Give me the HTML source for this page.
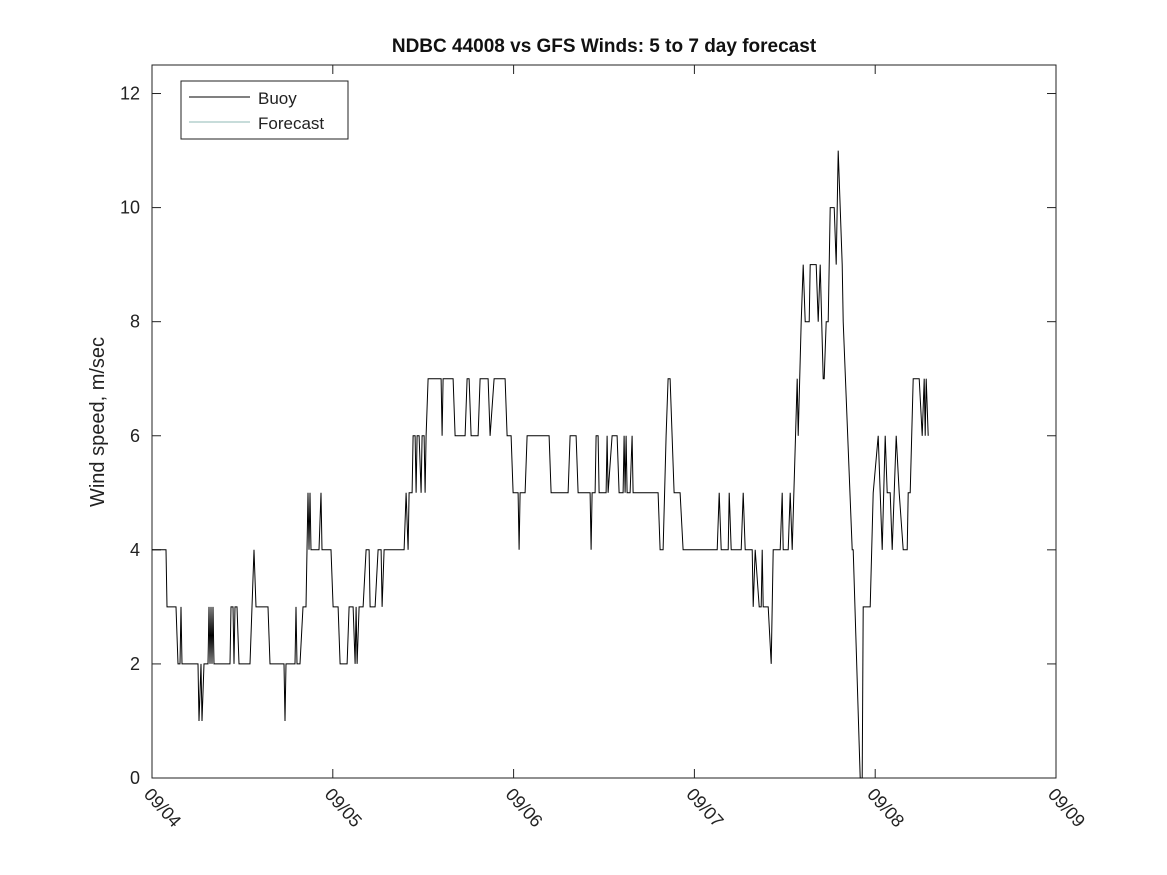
<!DOCTYPE html>
<html><head><meta charset="utf-8"><style>
body{margin:0;background:#fff}
svg{display:block;font-family:"Liberation Sans","DejaVu Sans",sans-serif}
</style></head><body>
<svg id="chart" width="1167" height="875">
<rect width="1167" height="875" fill="#fff"/>
<text x="604" y="52" text-anchor="middle" font-size="19" font-weight="bold" fill="#111">NDBC 44008 vs GFS Winds: 5 to 7 day forecast</text>
<text transform="translate(104,422) rotate(-90)" text-anchor="middle" font-size="20" fill="#222">Wind speed, m/sec</text>
<rect x="152" y="65" width="904" height="713" fill="none" stroke="#222" stroke-width="1"/>
<g id="axes"></g>
<polyline id="buoy" fill="none" stroke="#000" stroke-width="1"/>
<g>
<rect x="181" y="81" width="167" height="58" fill="#fff" stroke="#222" stroke-width="1"/>
<line x1="189" y1="97" x2="250" y2="97" stroke="#000"/>
<text x="258" y="104" font-size="17" fill="#222">Buoy</text>
<line x1="189" y1="122" x2="250" y2="122" stroke="#8fb8b4"/>
<text x="258" y="129" font-size="17" fill="#222">Forecast</text>
</g>
</svg>
<script>
const yTicks=[0,2,4,6,8,10,12];
const xTickLabels=["09/04","09/05","09/06","09/07","09/08","09/09"];
const buoyMinutes=[0,112,120,192,208,224,232,240,368,376,392,400,416,448,456,464,472,480,488,496,624,632,648,656,664,680,696,784,816,832,928,944,1056,1064,1072,1144,1152,1160,1184,1208,1232,1248,1256,1264,1272,1336,1352,1360,1432,1448,1488,1504,1560,1576,1608,1624,1632,1640,1656,1688,1712,1736,1744,1784,1808,1832,1840,1856,2016,2032,2048,2056,2080,2088,2104,2112,2120,2136,2152,2160,2176,2184,2192,2208,2312,2320,2328,2408,2424,2504,2520,2536,2552,2608,2624,2688,2704,2736,2824,2840,2872,2888,2928,2936,2944,2984,3000,3176,3192,3328,3344,3392,3408,3504,3512,3520,3544,3552,3568,3576,3632,3640,3648,3680,3720,3736,3768,3776,3784,3792,3800,3824,3840,3848,3888,4048,4064,4088,4112,4128,4144,4176,4224,4248,4520,4536,4552,4608,4616,4632,4712,4728,4744,4800,4808,4824,4856,4872,4880,4888,4928,4952,4968,5024,5040,5048,5088,5104,5120,5160,5168,5192,5208,5224,5256,5264,5312,5328,5344,5368,5376,5392,5408,5424,5456,5472,5480,5488,5504,5520,5528,5600,5608,5664,5680,5688,5744,5768,5808,5840,5864,5880,5904,5920,5952,5976,6008,6040,6048,6064,6088,6136,6160,6176,6184,6192,6208];
const buoyValues=[4,4,3,3,2,2,3,2,2,1,2,1,2,2,3,2,3,2,3,2,2,3,3,2,3,3,2,2,4,3,3,2,2,1,2,2,3,2,2,3,3,5,4,5,4,4,5,4,4,3,3,2,2,3,3,2,3,2,3,3,4,4,3,3,4,4,3,4,4,5,4,5,5,6,6,5,6,6,5,6,6,5,6,7,7,6,7,7,6,6,7,7,6,6,7,7,6,7,7,6,6,5,5,4,5,5,6,6,5,5,6,6,5,5,4,5,5,6,6,5,5,6,5,6,6,5,5,6,5,6,5,5,6,5,5,5,4,4,6,7,7,5,5,4,4,5,4,4,5,4,4,5,4,4,3,4,3,3,4,3,3,2,4,4,5,4,4,5,4,7,6,8,9,8,8,9,9,8,9,7,7,8,8,10,10,9,10,11,10,9,8,4,4,0,0,3,3,5,6,4,6,5,5,4,6,5,4,4,5,5,7,7,6,7,6,7,6];
const NS="http://www.w3.org/2000/svg";
const X0=152,X1=1056,Y0=778,Y1=65,DAY=1446;
function xs(m){return X0+m/(5*DAY)*(X1-X0);}
function ys(v){return Y0-v/12.5*(Y0-Y1);}
const axes=document.getElementById('axes');
function line(x1,y1,x2,y2){const l=document.createElementNS(NS,'line');l.setAttribute('x1',x1);l.setAttribute('y1',y1);l.setAttribute('x2',x2);l.setAttribute('y2',y2);l.setAttribute('stroke','#222');axes.appendChild(l);return l;}
yTicks.forEach(v=>{const y=ys(v);
const a=line(X0,y,X0+9,y);


const b=line(X1-9,y,X1,y);


const t=document.createElementNS(NS,'text');t.setAttribute('x',X0-12);t.setAttribute('y',y+6);t.setAttribute('text-anchor','end');t.setAttribute('font-size','18');t.setAttribute('fill','#222');t.textContent=v;


axes.appendChild(t);});
xTickLabels.forEach((s,i)=>{const x=xs(i*DAY);
const a=line(x,Y0,x,Y0-9);


const b=line(x,Y1,x,Y1+9);


const t=document.createElementNS(NS,'text');t.setAttribute('transform','translate('+(x-9)+','+(Y0+17)+') rotate(48)');t.setAttribute('font-size','18');t.setAttribute('fill','#222');t.textContent=s;


axes.appendChild(t);});
document.getElementById('buoy').setAttribute('points',buoyMinutes.map((m,i)=>xs(m).toFixed(1)+','+ys(buoyValues[i]).toFixed(1)).join(' '));
</script>
</body></html>
